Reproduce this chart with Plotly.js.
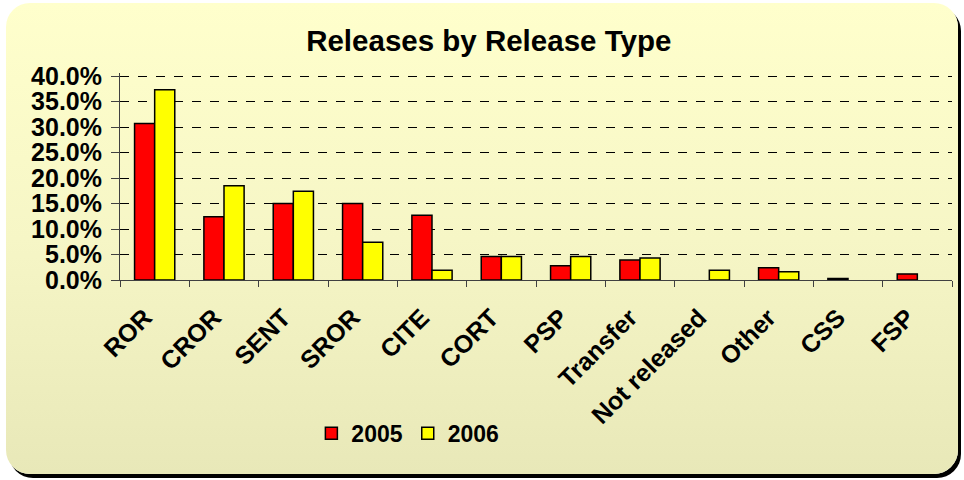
<!DOCTYPE html>
<html>
<head>
<meta charset="utf-8">
<script src="https://cdn.plot.ly/plotly-3.0.1.min.js"></script>
<style>
  html, body { margin: 0; padding: 0; background: #ffffff; width: 964px; height: 480px; overflow: hidden; }
  #frame { position: absolute; left: 6px; top: 3px; width: 952px; height: 471px; border-radius: 24px;
           background: linear-gradient(to bottom, #FFFFCC 0%, #F6F6C6 50%, #E8E8B8 100%);
           box-shadow: 3px 4px 0 #000000; }
  #chart { position: absolute; left: 0; top: 0; width: 964px; height: 480px; }
</style>
</head>
<body>
<div id="frame"></div>
<div id="chart"></div>
<script>
const categories = ["ROR", "CROR", "SENT", "SROR", "CITE", "CORT", "PSP", "Transfer", "Not released", "Other", "CSS", "FSP"];
const values2005 = [30.7, 12.4, 15.0, 15.0, 12.7, 4.6, 2.8, 3.9, 0, 2.4, 0.3, 1.2];
const values2006 = [37.3, 18.5, 17.4, 7.4, 1.9, 4.6, 4.6, 4.3, 1.9, 1.6, 0, 0];
const yTicks = [0, 5, 10, 15, 20, 25, 30, 35, 40];
const yTickLabels = ["0.0%", "5.0%", "10.0%", "15.0%", "20.0%", "25.0%", "30.0%", "35.0%", "40.0%"];

const FONT = "Liberation Sans, Arial, sans-serif";
// zero values are not drawn as bars (as in the original chart)
const hideZero = v => (v === 0 ? null : v);

const traces = [
  { type: "bar", name: "2005", x: categories, y: values2005.map(hideZero),
    marker: { color: "#FF0000", line: { color: "#000000", width: 1.5 } } },
  { type: "bar", name: "2006", x: categories, y: values2006.map(hideZero),
    marker: { color: "#FFFF00", line: { color: "#000000", width: 1.5 } } }
];

const layout = {
  width: 964, height: 480,
  paper_bgcolor: "rgba(0,0,0,0)", plot_bgcolor: "rgba(0,0,0,0)",
  margin: { l: 120, r: 12, t: 73, b: 200 },
  barmode: "group", bargap: 0.42, bargroupgap: 0,
  showlegend: true,
  title: { text: "<b>Releases by Release Type</b>", x: 0.507, xanchor: "center", y: 0.915, yanchor: "middle",
           font: { family: FONT, size: 29.5, color: "#000000" } },
  xaxis: {
    type: "category", tickangle: -45, tickson: "boundaries",
    ticks: "outside", ticklen: 6, tickcolor: "#404040", tickwidth: 1,
    showline: true, linecolor: "#404040", linewidth: 1,
    showgrid: false,
    ticklabelshift: -10, ticklabelstandoff: 12,
    tickfont: { family: FONT, size: 25, color: "#000000", weight: "bold" }
  },
  yaxis: {
    range: [0, 40.6], tickvals: yTicks, ticktext: yTickLabels,
    ticks: "outside", ticklen: 8, tickcolor: "#404040", tickwidth: 1,
    showline: true, linecolor: "#404040", linewidth: 1,
    showgrid: true, gridcolor: "#000000", gridwidth: 1, griddash: "dash",
    zeroline: false, ticklabelstandoff: 4,
    tickfont: { family: FONT, size: 25, color: "#000000", weight: "bold" }
  },
  legend: { orientation: "h", x: 0.346, xanchor: "center", y: -0.74, yanchor: "middle",
            font: { family: FONT, size: 23, color: "#000000", weight: "bold" },
            bgcolor: "rgba(0,0,0,0)", itemwidth: 30, traceorder: "normal" }
};

Plotly.newPlot("chart", traces, layout, { displayModeBar: false, staticPlot: true });
</script>
</body>
</html>
